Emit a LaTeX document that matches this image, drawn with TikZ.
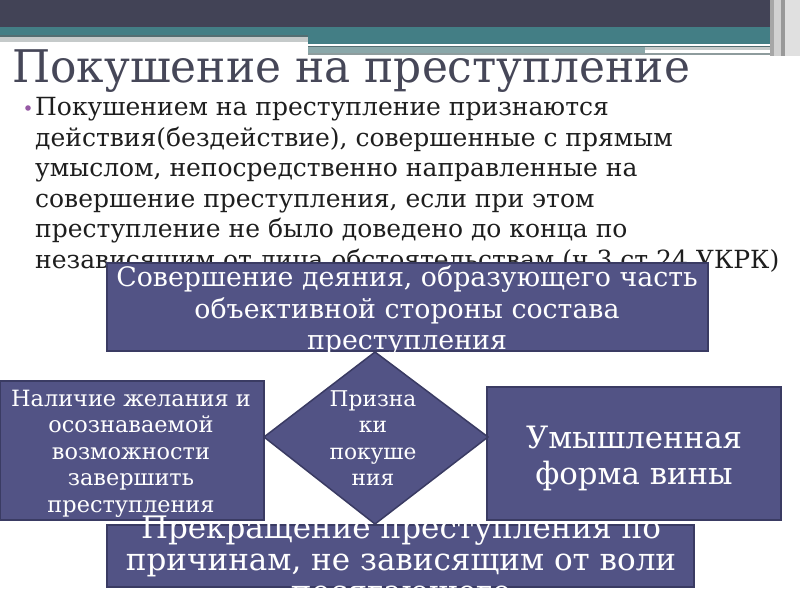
\documentclass[tikz,border=0pt]{standalone}
\usepackage{fontspec}
\setmainfont{DejaVu Serif}
\newfontfamily\titlef[FakeStretch=0.975]{DejaVu Serif}
\definecolor{hdark}{RGB}{66,67,86}
\definecolor{hteal}{RGB}{67,126,133}
\definecolor{hteald}{RGB}{84,110,114}
\definecolor{hgray}{RGB}{197,202,202}
\definecolor{hgteal}{RGB}{138,167,169}
\definecolor{hline}{RGB}{142,156,157}
\definecolor{titlec}{RGB}{70,71,88}
\definecolor{bodyc}{RGB}{30,30,30}
\definecolor{boxfill}{RGB}{82,83,133}
\definecolor{boxline}{RGB}{58,59,99}
\definecolor{bulletc}{RGB}{150,90,165}
\tikzset{
  boxs/.style={fill=boxfill, draw=boxline, line width=1.5bp},
  wtxt/.style={text=white, inner sep=0, anchor=base},
  bodyt/.style={text=bodyc, inner sep=0, anchor=base west, font=\fontsize{25bp}{25bp}\selectfont},
}
\begin{document}
\begin{tikzpicture}[x=1bp,y=-1bp]
\useasboundingbox (0,0) rectangle (800,600);
% header decoration
\fill[hdark] (0,0) rectangle (800,27);
\fill[hteal] (0,27) rectangle (776,36);
\fill[hteald] (0,35) rectangle (308,37);
\fill[hgray] (0,37) rectangle (308,42);
\fill[hteal] (308,36) rectangle (776,44);
\fill[white] (308,44) rectangle (740,46);
\fill[hteald] (308,46) rectangle (776,47);
\fill[hgteal] (308,47) rectangle (645,53);
\fill[hgray] (645,47) rectangle (776,50);
\fill[white] (645,50) rectangle (776,52);
\fill[hline] (308,53) rectangle (776,55);
\fill[black!35] (770,0) rectangle (774,56);
\fill[black!18] (774,0) rectangle (781,56);
\fill[black!40] (781,0) rectangle (785,56);
\fill[black!12] (785,0) rectangle (800,56);
% title
\node[text=titlec, inner sep=0, anchor=base west, font=\titlef\fontsize{45bp}{45bp}\selectfont] (title) at (12,83) {Покушение на преступление};
% bullet + body
\fill[bulletc] (28,108) circle (2.8) coordinate (bul);
\node[bodyt] (b1) at (35,116) {Покушением на преступление признаются};
\node[bodyt] (b2) at (35,146.5) {действия(бездействие), совершенные с прямым};
\node[bodyt] (b3) at (35,177) {умыслом, непосредственно направленные на};
\node[bodyt] (b4) at (35,207.5) {совершение преступления, если при этом};
\node[bodyt] (b5) at (35,238) {преступление не было доведено до конца по};
\node[bodyt] (b6) at (35,268.5) {независящим от лица обстоятельствам (ч.3 ст.24 УКРК)};
% boxes
\draw[boxs] (107,263) rectangle (708,351);
\draw[boxs] (0,381) rectangle (264,520);
\draw[boxs] (487,387) rectangle (781,520);
\draw[boxs] (375,352) -- (488,437) -- (375,524) -- (264,437) -- cycle;
\draw[boxs] (107,525) rectangle (694,587);
% top box text
\begin{scope}[every node/.append style={wtxt, font=\fontsize{26.8bp}{26.8bp}\selectfont}]
\node (t1) at (407,286) {Совершение деяния, образующего часть};
\node (t2) at (407,318) {объективной стороны состава};
\node (t3) at (407,349) {преступления};
\end{scope}
% left box
\begin{scope}[every node/.append style={wtxt, font=\fontsize{22.4bp}{22.4bp}\selectfont}]
\node (l1) at (131,406) {Наличие желания и};
\node (l2) at (131,432.5) {осознаваемой};
\node (l3) at (131,459) {возможности};
\node (l4) at (131,485.5) {завершить};
\node (l5) at (131,512) {преступления};
\end{scope}
% diamond
\begin{scope}[every node/.append style={wtxt, font=\fontsize{21.7bp}{21.7bp}\selectfont}]
\node (d1) at (373,406) {Призна};
\node (d2) at (373,432.5) {ки};
\node (d3) at (373,459) {покуше};
\node (d4) at (373,485.5) {ния};
\end{scope}
% right box
\begin{scope}[every node/.append style={wtxt, font=\fontsize{30.8bp}{30.8bp}\selectfont}]
\node (r1) at (634,448) {Умышленная};
\node (r2) at (634,484) {форма вины};
\end{scope}
% bottom box
\begin{scope}[every node/.append style={wtxt, font=\fontsize{31bp}{31bp}\selectfont}]
\node (p1) at (401,538) {Прекращение преступления по};
\node (p2) at (401,570) {причинам, не зависящим от воли};
\node (p3) at (401,602) {посягающего};
\end{scope}
\end{tikzpicture}
\end{document}
